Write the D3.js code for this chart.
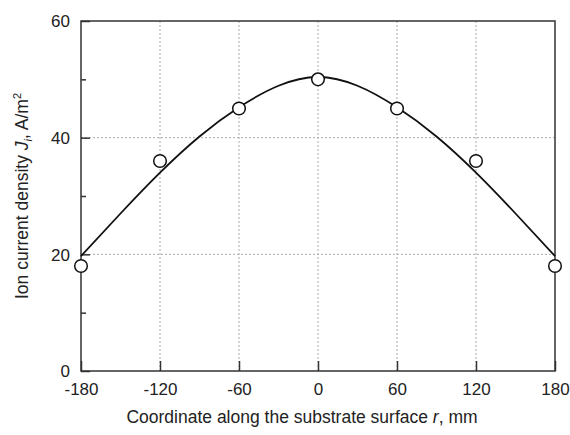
<!DOCTYPE html>
<html>
<head>
<meta charset="utf-8">
<script src="https://cdn.jsdelivr.net/npm/d3@7"></script>
<style>
  body { margin: 0; background: #fff; }
  text { font-family: "Liberation Sans", Arial, sans-serif; fill: #222; }
</style>
</head>
<body>
<svg id="chart" width="570" height="435"></svg>
<script>
// measured points
const coords = [-180, -120, -60, 0, 60, 120, 180]
const density = [18, 36, 45, 50, 45, 36, 18]

// fitted curve
const fitR = [-180, -150, -120, -90, -60, -30, 0, 30, 60, 90, 120, 150, 180]
const fitJ = [19.7, 27, 34, 40.2, 45.2, 48.9, 50.4, 48.9, 45.2, 40.2, 34, 27, 19.7]

const xTicks = [-180, -120, -60, 0, 60, 120, 180]
const yTicks = [0, 20, 40, 60]
const yMinor = [10, 30, 50]

const svg = d3.select('#chart')
const plotL = 81
const plotR = 555
const plotT = 21
const plotB = 371

const x = d3.scaleLinear().domain([-180, 180]).range([plotL, plotR])
const y = d3.scaleLinear().domain([0, 60]).range([plotB, plotT])

// grid
const grid = svg.append('g')
  .attr('stroke', '#aaa')
  .attr('stroke-width', 1)
  .attr('stroke-dasharray', '2,2')

grid.selectAll('.gx')
  .data(xTicks.slice(1, -1))
  .enter()
  .append('line')
  .attr('x1', d => x(d))
  .attr('x2', d => x(d))
  .attr('y1', plotT)
  .attr('y2', plotB)

grid.selectAll('.gy')
  .data(yTicks.slice(1, -1))
  .enter()
  .append('line')
  .attr('x1', plotL)
  .attr('x2', plotR)
  .attr('y1', d => y(d))
  .attr('y2', d => y(d))

// axes with inward ticks, plain hyphen for negatives
const fmt = d => String(d)
const xAxis = svg.append('g')
  .attr('transform', `translate(0,${plotB})`)
  .call(d3.axisBottom(x).tickValues(xTicks).tickFormat(fmt).tickSizeInner(-10).tickSizeOuter(0).tickPadding(12))
const yAxis = svg.append('g')
  .attr('transform', `translate(${plotL},0)`)
  .call(d3.axisLeft(y).tickValues(yTicks).tickFormat(fmt).tickSizeInner(-9).tickSizeOuter(0).tickPadding(11))

svg.append('g')
  .attr('transform', `translate(${plotL},0)`)
  .call(d3.axisLeft(y).tickValues(yMinor).tickSizeInner(-5).tickSizeOuter(0).tickFormat(''))

svg.selectAll('.tick line').attr('stroke', '#333').attr('stroke-width', 1.5)
svg.selectAll('.domain').remove()
svg.selectAll('.tick text').style('font-size', '17px').attr('fill', '#222')
xAxis.selectAll('.tick text').attr('dy', '0.71em')
yAxis.selectAll('.tick text').attr('dy', '0.35em')

// frame
svg.append('rect')
  .attr('x', plotL)
  .attr('y', plotT)
  .attr('width', plotR - plotL)
  .attr('height', plotB - plotT)
  .attr('fill', 'none')
  .attr('stroke', '#333')
  .attr('stroke-width', 1.5)

// fitted curve
const line = d3.line()
  .x((d, i) => x(fitR[i]))
  .y(d => y(d))
  .curve(d3.curveNatural)

svg.append('path')
  .attr('d', line(fitJ))
  .attr('fill', 'none')
  .attr('stroke', '#111')
  .attr('stroke-width', 1.8)

// points
svg.selectAll('.pt')
  .data(density)
  .enter()
  .append('circle')
  .attr('cx', (d, i) => x(coords[i]))
  .attr('cy', d => y(d))
  .attr('r', 6.3)
  .attr('fill', '#fff')
  .attr('stroke', '#111')
  .attr('stroke-width', 1.5)

// axis titles
const xt = svg.append('text')
  .attr('x', 302)
  .attr('y', 423)
  .attr('text-anchor', 'middle')
  .style('font-size', '17.5px')
xt.append('tspan').text('Coordinate along the substrate surface ')
xt.append('tspan').style('font-style', 'italic').text('r')
xt.append('tspan').text(', mm')

const yt = svg.append('text')
  .attr('transform', 'translate(28,196) rotate(-90)')
  .attr('text-anchor', 'middle')
  .style('font-size', '17.5px')
yt.append('tspan').text('Ion current density ')
yt.append('tspan').style('font-style', 'italic').text('J')
yt.append('tspan').style('font-style', 'italic').style('font-size', '11px').attr('dy', 4).text('i')
yt.append('tspan').attr('dy', -4).text(', A/m')
yt.append('tspan').style('font-size', '11px').attr('dy', -7).text('2')
</script>
</body>
</html>
